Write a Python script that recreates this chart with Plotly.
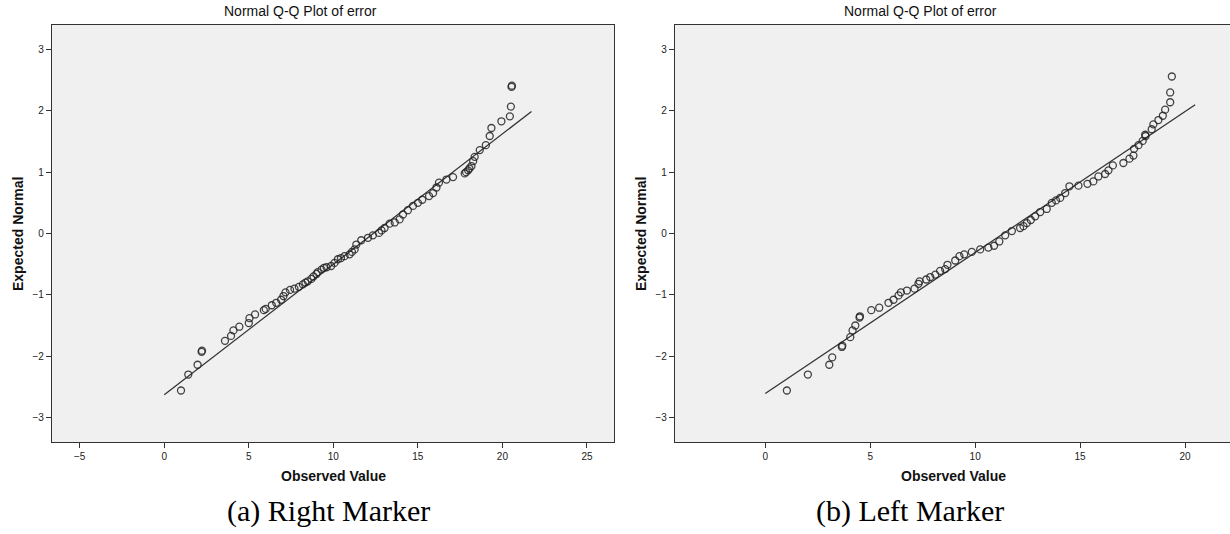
import plotly.graph_objects as go

# ---- data ----
left_obs = [0.99, 1.42, 1.97, 2.21, 2.23, 3.59, 3.95, 4.09, 4.44, 5.0, 5.04, 5.37, 5.89, 6.0,
            6.36, 6.62, 6.91, 7.05, 7.17, 7.44, 7.70, 7.96, 8.2, 8.35, 8.49, 8.7, 8.83, 9.0,
            9.08, 9.3, 9.44, 9.6, 9.87, 10.07, 10.27, 10.45, 10.66, 10.96, 11.1, 11.26, 11.36,
            11.65, 12.05, 12.34, 12.7, 12.85, 13.03, 13.33, 13.63, 13.92, 14.12, 14.41, 14.71,
            15.0, 15.26, 15.66, 15.9, 16.1, 16.25, 16.69, 17.08, 17.77, 17.85, 17.97, 18.05,
            18.17, 18.27, 18.36, 18.66, 19.02, 19.25, 19.35, 19.94, 20.44, 20.5, 20.54, 20.56]
left_exp = [-2.56, -2.30, -2.14, -1.93, -1.91, -1.75, -1.67, -1.58, -1.52, -1.46, -1.38, -1.32,
            -1.25, -1.23, -1.17, -1.13, -1.08, -1.02, -0.96, -0.92, -0.90, -0.87, -0.83, -0.80,
            -0.78, -0.74, -0.70, -0.66, -0.63, -0.59, -0.56, -0.55, -0.53, -0.48, -0.42, -0.40,
            -0.37, -0.34, -0.30, -0.26, -0.18, -0.11, -0.07, -0.03, 0.01, 0.05, 0.09, 0.16, 0.18,
            0.23, 0.31, 0.38, 0.45, 0.50, 0.55, 0.61, 0.66, 0.75, 0.83, 0.88, 0.92, 0.98, 1.00,
            1.03, 1.06, 1.10, 1.18, 1.25, 1.36, 1.44, 1.59, 1.72, 1.83, 1.91, 2.07, 2.39, 2.41]
left_line_x = [0.0, 21.72]
left_line_y = [-2.63, 1.99]

right_obs = [1.03, 2.03, 3.05, 3.19, 3.65, 3.67, 4.05, 4.16, 4.29, 4.49, 4.51, 5.05, 5.43, 5.87,
             6.11, 6.35, 6.46, 6.75, 7.11, 7.3, 7.35, 7.67, 7.86, 8.1, 8.33, 8.57, 8.68, 9.05,
             9.25, 9.48, 9.84, 10.24, 10.63, 10.9, 11.15, 11.43, 11.75, 12.14, 12.3, 12.46,
             12.65, 12.86, 13.1, 13.41, 13.65, 13.85, 14.05, 14.29, 14.49, 14.92, 15.35, 15.63,
             15.87, 16.19, 16.35, 16.56, 17.06, 17.35, 17.54, 17.57, 17.78, 17.98, 18.1, 18.12,
             18.41, 18.49, 18.73, 18.94, 19.05, 19.29, 19.29, 19.37]
right_exp = [-2.56, -2.30, -2.14, -2.02, -1.85, -1.83, -1.69, -1.58, -1.50, -1.37, -1.35, -1.25,
             -1.21, -1.13, -1.08, -1.01, -0.96, -0.93, -0.90, -0.82, -0.78, -0.75, -0.71, -0.67,
             -0.61, -0.58, -0.51, -0.44, -0.37, -0.34, -0.30, -0.26, -0.23, -0.20, -0.13, -0.03,
             0.04, 0.09, 0.12, 0.17, 0.22, 0.28, 0.35, 0.40, 0.50, 0.54, 0.58, 0.66, 0.77, 0.78,
             0.81, 0.85, 0.93, 0.97, 1.03, 1.11, 1.15, 1.22, 1.27, 1.38, 1.44, 1.51, 1.61, 1.59,
             1.70, 1.78, 1.85, 1.92, 2.02, 2.14, 2.30, 2.56]
right_line_x = [0.0, 20.48]
right_line_y = [-2.61, 2.10]

left_xticks = [-5, 0, 5, 10, 15, 20, 25]
right_xticks = [0, 5, 10, 15, 20]
yticks = [-3, -2, -1, 0, 1, 2, 3]

titles = ["Normal Q-Q Plot of error", "Normal Q-Q Plot of error"]
captions = ["(a) Right Marker", "(b) Left Marker"]

# ---- figure ----
W, H = 1230, 534
fig = go.Figure()

mk = dict(symbol="circle-open", size=7, color="rgba(35,35,35,0.85)", line=dict(width=1.3))
ln = dict(color="#333333", width=1.3)

fig.add_trace(go.Scatter(x=left_line_x, y=left_line_y, mode="lines", line=ln,
                         xaxis="x", yaxis="y", hoverinfo="skip"))
fig.add_trace(go.Scatter(x=left_obs, y=left_exp, mode="markers", marker=mk,
                         xaxis="x", yaxis="y"))
fig.add_trace(go.Scatter(x=right_line_x, y=right_line_y, mode="lines", line=ln,
                         xaxis="x2", yaxis="y2", hoverinfo="skip"))
fig.add_trace(go.Scatter(x=right_obs, y=right_exp, mode="markers", marker=mk,
                         xaxis="x2", yaxis="y2"))

tickfont = dict(family="Liberation Sans, Arial, sans-serif", size=10, color="#222")
labfont = dict(family="Liberation Sans, Arial, sans-serif", size=14, color="#111")

ydom = [1 - 442 / H, 1 - 25 / H]
common_x = dict(showgrid=False, zeroline=False, showline=True, linecolor="#333", linewidth=1.3,
                ticks="outside", ticklen=5, tickcolor="#333", tickfont=tickfont, mirror=True)
common_y = dict(showgrid=False, zeroline=False, showline=True, linecolor="#333", linewidth=1.3,
                ticks="outside", ticklen=5, tickcolor="#333", tickfont=tickfont,
                tickvals=yticks, range=[-3.4, 3.4])

fig.update_layout(
    width=W, height=H, margin=dict(l=0, r=0, t=0, b=0),
    paper_bgcolor="white", plot_bgcolor="#f0f0f0", showlegend=False,
    xaxis=dict(domain=[52 / W, 614 / W], range=[-6.64, 26.6], tickvals=left_xticks,
               anchor="y", **common_x),
    yaxis=dict(domain=ydom, anchor="x", mirror=True, **common_y),
    xaxis2=dict(domain=[675 / W, 1.0], range=[-4.3, 22.14], tickvals=right_xticks,
                anchor="y2", **common_x),
    yaxis2=dict(domain=ydom, anchor="x2", mirror=False, **common_y),
)

ann = []
for cx, t in zip([300, 920], titles):
    ann.append(dict(text=t, x=cx / W, y=1 - 11 / H, xref="paper", yref="paper",
                    showarrow=False, xanchor="center", yanchor="middle",
                    font=dict(family="Liberation Sans, Arial, sans-serif", size=14, color="#111")))
for cx in [333, 953]:
    ann.append(dict(text="<b>Observed Value</b>", x=cx / W, y=1 - 476 / H, xref="paper", yref="paper",
                    showarrow=False, xanchor="center", yanchor="middle", font=labfont))
for cx in [18, 641]:
    ann.append(dict(text="<b>Expected Normal</b>", x=cx / W, y=1 - 234 / H, xref="paper", yref="paper",
                    showarrow=False, xanchor="center", yanchor="middle", textangle=-90, font=labfont))
for cx, t in zip([328, 910], captions):
    ann.append(dict(text=t, x=cx / W, y=1 - 511 / H, xref="paper", yref="paper",
                    showarrow=False, xanchor="center", yanchor="middle",
                    font=dict(family="Liberation Serif, serif", size=30, color="#000")))
fig.update_layout(annotations=ann)

fig.write_html("out.html")
